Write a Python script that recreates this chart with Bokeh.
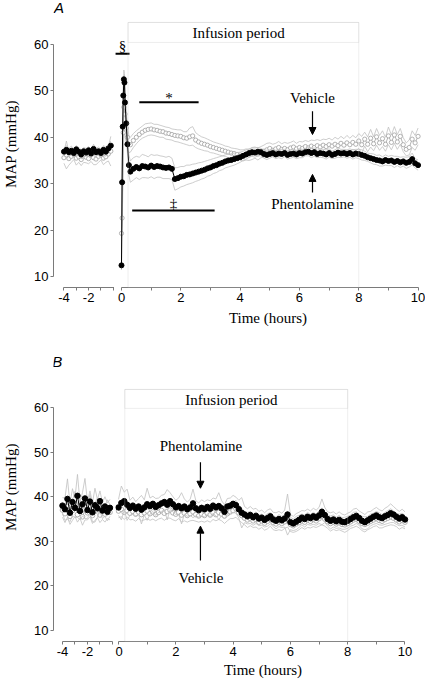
import numpy as np
from bokeh.plotting import figure
from bokeh.layouts import row, column
from bokeh.models import Range1d, FixedTicker, Label, Arrow, NormalHead, BoxAnnotation, Title
from bokeh.embed import file_html
from bokeh.resources import INLINE

# ------------------------------------------------------------------ data
infusion_start = 0.22
infusion_end = 8.0
x_ticks_pre = [-4, -2]
x_minor_pre = [-3, -1, 0]
x_ticks = [0, 2, 4, 6, 8, 10]
x_minor = [1, 3, 5, 7, 9]
y_ticks = [10, 20, 30, 40, 50, 60]

# Panel A: pre-infusion baseline (hours)
a_pre_t = [-4.0, -3.8, -3.6, -3.4, -3.2, -3.0, -2.8, -2.6, -2.4, -2.2,
           -2.0, -1.8, -1.6, -1.4, -1.2, -1.0, -0.8, -0.6, -0.4, -0.2]
a_pre_phe = [36.9, 37.3, 36.8, 37.1, 36.6, 37.4, 36.9, 36.3, 37.0, 36.7,
             37.2, 36.5, 37.5, 36.8, 37.0, 36.6, 37.3, 36.9, 37.6, 38.2]
a_pre_phe_sem = [0.8, 0.9, 0.8, 1.0, 0.9, 0.8, 0.9, 1.0, 0.8, 0.9,
                 0.8, 0.9, 1.0, 0.8, 0.9, 0.8, 0.9, 1.0, 0.9, 1.0]
a_pre_veh = [35.6, 36.2, 35.4, 35.9, 36.3, 35.5, 35.8, 35.2, 36.0, 35.7,
             35.4, 36.1, 35.6, 35.3, 35.9, 36.2, 35.5, 35.8, 36.4, 37.0]
a_pre_veh_sem = [1.2, 3.0, 1.4, 1.3, 1.1, 1.5, 1.2, 1.3, 1.4, 1.2,
                 1.1, 1.3, 1.5, 1.2, 1.3, 1.1, 1.4, 1.2, 1.5, 3.2]

# Panel A: bolus + infusion (hours)
a_t = [0.0, 0.02, 0.04, 0.06, 0.08, 0.10, 0.12, 0.16, 0.20, 0.25] + \
      [round(0.3 + 0.1 * i, 1) for i in range(98)]
a_phe = [12.4, 30.3, 42.3, 49.0, 52.5, 51.8, 47.5, 43.0, 38.5, 34.0,
         32.6, 33.2, 33.6, 33.3, 33.8, 33.7, 33.5, 33.9, 33.6, 33.8,
         33.7, 33.5, 33.4, 33.5, 33.2, 31.0, 31.2, 31.5, 31.6, 31.9,
         32.0, 32.2, 32.4, 32.6, 32.8, 33.0, 33.3, 33.5, 33.8, 34.0,
         34.3, 34.5, 34.8, 35.0, 35.1, 35.3, 35.5, 35.7, 36.0, 36.3,
         36.6, 36.8, 36.7, 36.9, 36.8, 36.4, 36.2, 36.4, 36.6, 36.3,
         36.5, 36.4, 36.6, 36.2, 36.4, 36.5, 36.3, 36.6, 36.5, 36.8,
         36.9, 36.6, 36.8, 36.4, 36.6, 36.5, 36.3, 36.6, 36.2, 36.4,
         36.7, 36.5, 36.6, 36.4, 36.6, 36.3, 36.5, 36.4, 36.2, 36.0,
         35.7, 35.5, 35.3, 35.1, 35.0, 34.8, 35.1, 34.9, 35.0, 34.7,
         34.9, 34.6, 34.8, 34.5, 34.7, 35.3, 34.4, 34.0]
a_phe_sem = [1.0, 2.0, 2.5, 2.5, 2.0, 2.0, 2.0, 2.0, 2.0, 2.2,
             2.3, 2.4, 2.3, 2.4, 2.5, 2.4, 2.3, 2.4, 2.5, 2.4,
             2.3, 2.4, 2.3, 2.4, 2.3, 2.4, 2.3, 2.2, 2.1, 2.1,
             2.0, 2.0, 1.9, 1.9, 1.8, 1.8, 1.7, 1.7, 1.6, 1.6,
             1.5, 1.5, 1.4, 1.4, 1.3, 1.3, 1.2, 1.1, 1.0, 1.0,
             0.9, 0.9, 1.0, 0.9, 0.8, 0.9, 1.0, 0.9, 0.8, 0.9,
             0.9, 1.0, 0.8, 0.9, 0.9, 0.8, 0.9, 1.0, 0.9, 0.8,
             0.9, 1.0, 0.9, 0.8, 0.9, 0.9, 1.0, 0.9, 0.8, 0.9,
             1.0, 0.9, 0.8, 0.9, 0.9, 1.0, 0.9, 1.0, 1.1, 1.0,
             0.9, 1.0, 1.1, 1.0, 1.2, 1.0, 1.1, 1.0, 1.1, 1.2,
             1.0, 1.1, 1.0, 1.2, 1.1, 1.3, 1.0, 1.1]
a_veh = [19.3, 22.6, 30.3, 41.0, 46.5, 47.5, 45.0, 42.0, 40.0, 38.5,
         38.4, 39.3, 40.0, 40.6, 41.1, 41.5, 41.7, 41.8, 41.6, 41.5,
         41.3, 41.2, 40.9, 40.8, 40.6, 40.4, 40.3, 40.2, 39.9, 39.8,
         40.1, 40.3, 39.4, 39.0, 38.7, 38.5, 38.3, 38.0, 37.8, 37.6,
         37.4, 37.2, 37.0, 36.8, 36.6, 36.5, 36.3, 36.2, 36.1, 36.3,
         36.2, 36.5, 36.7, 36.4, 36.8, 37.0, 37.3, 37.6, 37.2, 37.5,
         37.8, 37.4, 37.6, 37.3, 37.7, 37.9, 37.5, 37.8, 37.6, 38.0,
         37.7, 38.1, 37.8, 38.2, 37.9, 38.3, 38.0, 38.4, 38.1, 38.5,
         38.2, 38.7, 38.3, 38.8, 38.4, 38.9, 38.5, 39.2, 38.4, 39.6,
         38.5, 39.8, 38.6, 40.1, 38.8, 39.7, 38.5, 40.3, 38.9, 40.5,
         39.0, 40.2, 38.4, 37.4, 37.8, 39.6, 38.8, 40.2]
a_veh_sem = [1.0, 2.0, 3.0, 5.0, 6.5, 6.0, 4.5, 3.5, 2.5, 1.8,
             1.6, 1.5, 1.4, 1.3, 1.3, 1.4, 1.3, 1.3, 1.2, 1.3,
             1.3, 1.2, 1.3, 1.3, 1.2, 1.3, 1.3, 1.4, 1.3, 1.4,
             1.9, 2.0, 1.6, 1.5, 1.4, 1.4, 1.3, 1.3, 1.2, 1.2,
             1.2, 1.2, 1.1, 1.2, 1.1, 1.1, 1.2, 1.1, 1.2, 1.2,
             1.2, 1.3, 1.2, 1.3, 1.2, 1.3, 1.4, 1.2, 1.3, 1.2,
             1.3, 1.2, 1.3, 1.4, 1.2, 1.3, 1.2, 1.3, 1.4, 1.3,
             1.4, 1.3, 1.5, 1.3, 1.4, 1.3, 1.5, 1.4, 1.3, 1.5,
             1.4, 1.5, 1.4, 1.6, 1.4, 1.5, 1.4, 1.6, 1.8, 1.5,
             1.6, 1.9, 1.5, 1.8, 1.6, 1.7, 1.5, 1.9, 1.6, 1.8,
             1.6, 1.7, 1.5, 1.4, 1.6, 1.8, 1.6, 1.8]

# Panel B: pre-infusion baseline
b_pre_t = [-4.0, -3.8, -3.6, -3.4, -3.2, -3.0, -2.8, -2.6, -2.4, -2.2,
           -2.0, -1.8, -1.6, -1.4, -1.2, -1.0, -0.8, -0.6, -0.4, -0.2]
b_pre_phe = [38.0, 37.2, 39.5, 36.4, 38.8, 37.5, 40.2, 36.8, 38.3, 39.6,
             37.0, 38.9, 36.5, 38.1, 37.4, 39.0, 36.9, 37.8, 36.6, 37.5]
b_pre_phe_sem = [1.8, 2.5, 4.5, 2.0, 3.0, 2.2, 4.8, 2.0, 2.6, 4.5,
                 1.9, 2.4, 2.1, 3.8, 2.0, 2.3, 1.8, 2.2, 2.0, 1.9]
b_pre_veh = [37.0, 36.2, 37.8, 35.6, 36.9, 38.4, 36.0, 37.3, 35.5, 37.1,
             36.4, 38.0, 35.8, 36.7, 37.5, 35.9, 36.8, 36.1, 37.2, 36.5]
b_pre_veh_sem = [1.6, 2.0, 2.4, 1.8, 2.2, 2.8, 1.7, 2.1, 1.9, 2.3,
                 1.6, 2.5, 1.8, 2.0, 2.2, 1.7, 1.9, 1.8, 2.1, 1.7]

# Panel B: infusion
b_t = [round(0.1 * i, 1) for i in range(101)]
b_phe = [37.6, 38.6, 39.0, 38.2, 37.5, 38.0, 37.3, 37.8, 37.1, 37.6,
         38.3, 37.9, 38.4, 37.7, 38.1, 38.5, 38.8, 38.2, 39.0, 38.3,
         37.6, 37.9, 37.4, 37.8, 37.2, 37.6, 38.5, 37.4, 37.0, 37.5,
         37.2, 37.7, 37.3, 38.0, 37.6, 37.9, 37.4, 36.6, 37.8, 38.0,
         38.4, 38.1, 37.2, 36.4, 36.0, 35.6, 35.9, 35.4, 35.7, 35.1,
         35.3, 34.8, 35.2, 35.6, 34.9, 34.6, 35.0, 34.7, 35.1, 36.0,
         34.3, 34.0, 34.4, 34.8, 35.3, 35.0, 35.5, 35.2, 35.6, 35.3,
         35.8, 36.6, 35.9, 35.0, 34.6, 34.9, 34.5, 34.8, 34.4, 34.3,
         34.6, 35.0, 35.4, 35.7, 35.2, 34.6, 34.3, 34.7, 35.1, 35.5,
         35.8, 35.4, 35.2, 35.6, 35.9, 36.3, 36.0, 35.5, 35.1, 35.4,
         34.9]
b_phe_sem = [1.8, 3.8, 2.0, 3.5, 1.7, 1.9, 1.6, 1.8, 3.2, 1.7,
             3.6, 1.8, 1.7, 1.9, 1.6, 1.8, 1.7, 3.4, 1.9, 1.7,
             1.6, 1.8, 3.5, 1.7, 1.6, 1.8, 3.2, 1.7, 1.6, 1.8,
             1.7, 1.6, 1.8, 1.7, 1.9, 3.0, 1.7, 1.6, 1.8, 1.7,
             1.9, 1.8, 2.0, 3.4, 1.8, 1.7, 1.9, 1.8, 1.7, 1.6,
             1.7, 1.6, 1.8, 1.7, 1.6, 1.8, 1.7, 1.6, 1.9, 4.6,
             1.7, 1.6, 1.8, 1.7, 1.6, 1.8, 1.7, 1.6, 1.8, 1.7,
             1.8, 2.9, 1.7, 1.6, 1.8, 1.7, 1.6, 1.8, 1.7, 1.6,
             1.7, 1.6, 1.8, 1.7, 1.6, 1.8, 1.7, 1.9, 1.6, 1.7,
             1.8, 1.7, 1.6, 1.8, 1.9, 2.1, 1.8, 1.7, 1.6, 1.8,
             1.7]
b_veh = [36.8, 37.2, 36.5, 36.9, 36.3, 36.7, 36.1, 36.6, 36.0, 36.4,
         36.8, 36.2, 36.6, 36.0, 36.5, 36.9, 36.3, 36.7, 37.0, 36.4,
         36.1, 36.5, 35.9, 36.3, 35.8, 36.2, 36.6, 36.0, 35.7, 36.1,
         35.8, 36.3, 35.9, 36.4, 36.0, 36.5, 36.1, 35.7, 36.2, 36.6,
         36.9, 37.3, 36.4, 35.8, 35.2, 34.8, 35.1, 34.6, 34.9, 34.3,
         34.6, 34.1, 34.5, 34.9, 34.2, 33.9, 34.3, 34.0, 34.4, 35.0,
         33.8, 33.5, 33.9, 34.2, 34.6, 34.3, 34.8, 34.5, 34.9, 34.6,
         35.1, 35.6, 35.0, 34.4, 34.0, 34.3, 33.9, 34.2, 33.8, 33.7,
         34.0, 34.4, 34.8, 35.0, 34.5, 34.0, 33.8, 34.1, 34.5, 34.8,
         35.1, 34.7, 34.5, 34.9, 35.2, 35.5, 35.2, 34.8, 34.4, 34.7,
         34.3]
b_veh_sem = [1.5, 1.7, 1.6, 1.4, 1.5, 1.8, 1.6, 1.5, 1.4, 1.6,
             1.7, 1.5, 1.6, 1.4, 1.5, 1.7, 1.6, 1.5, 1.8, 1.6,
             1.5, 1.4, 1.6, 1.7, 1.5, 1.6, 1.9, 1.5, 1.4, 1.6,
             1.5, 1.7, 1.6, 1.5, 1.4, 1.6, 1.5, 1.7, 1.6, 1.5,
             1.8, 1.9, 1.7, 1.6, 1.5, 1.7, 1.6, 1.5, 1.7, 1.6,
             1.5, 1.6, 1.7, 1.5, 1.6, 1.5, 1.7, 1.6, 1.5, 1.8,
             1.6, 1.5, 1.7, 1.6, 1.5, 1.6, 1.7, 1.5, 1.6, 1.5,
             1.7, 1.9, 1.6, 1.5, 1.7, 1.6, 1.5, 1.6, 1.5, 1.7,
             1.6, 1.5, 1.7, 1.6, 1.5, 1.6, 1.7, 1.5, 1.6, 1.5,
             1.6, 1.7, 1.5, 1.6, 1.7, 1.8, 1.6, 1.5, 1.7, 1.6,
             1.5]

# significance bars of panel A
a_sig_text = ["§", "*", "‡"]
a_sig_x0 = [-0.2, 0.60, 0.36]
a_sig_x1 = [0.27, 2.60, 3.14]
a_sig_y = [57.98, 47.57, 24.22]
a_sig_text_y = [59.6, 48.5, 25.7]

# ------------------------------------------------------------------ style
AXC = "#7a7a7a"
SEMC = "#c0c0c0"
VEHC = "#a0a0a0"
BOXC = "#c8c8c8"
SERIF = "Liberation Serif"
SANS = "Liberation Sans"


def style_axis(ax):
    ax.axis_line_color = AXC
    ax.axis_line_width = 1
    ax.major_tick_line_color = AXC
    ax.minor_tick_line_color = AXC
    ax.major_tick_out = 3
    ax.major_tick_in = 0
    ax.minor_tick_out = 3
    ax.minor_tick_in = 0
    ax.major_label_text_font = SANS
    ax.major_label_text_font_size = "13px"
    ax.major_label_text_color = "black"
    ax.major_label_standoff = 2


def draw_series(p, t, phe, phe_sem, veh, veh_sem, msize):
    t = np.array(t)
    phe = np.array(phe); phe_sem = np.array(phe_sem)
    veh = np.array(veh); veh_sem = np.array(veh_sem)
    p.line(t, veh + veh_sem, line_color=SEMC, line_width=0.8)
    p.line(t, veh - veh_sem, line_color=SEMC, line_width=0.8)
    p.line(t, veh, line_color=VEHC, line_width=0.8)
    p.scatter(t, veh, marker="circle", size=msize - 0.8, fill_color="white",
              line_color=VEHC, line_width=0.8)
    p.line(t, phe + phe_sem, line_color=SEMC, line_width=0.8)
    p.line(t, phe - phe_sem, line_color=SEMC, line_width=0.8)
    p.line(t, phe, line_color="black", line_width=1)
    p.scatter(t, phe, marker="circle", size=msize, fill_color="black",
              line_color="black")


def txt(p, x, y, s, size="15px", font=SERIF, style="normal"):
    p.add_layout(Label(x=x, y=y, text=s, text_font=font, text_font_size=size,
                       text_font_style=style, text_align="center",
                       text_baseline="middle", text_color="black"))


def arrow(p, x, y0, y1):
    p.add_layout(Arrow(end=NormalHead(size=7, fill_color="black", line_color="black"),
                       x_start=x, y_start=y0, x_end=x, y_end=y1,
                       line_color="black", line_width=1.2))


def make_panel(cfg, pre, main, letter):
    yr = Range1d(cfg["y0"], cfg["y1"])
    common = dict(output_backend="svg", toolbar_location=None,
                  outline_line_color=None, background_fill_color="white",
                  border_fill_color="white", y_range=yr,
                  min_border_top=0, min_border_bottom=cfg["bb"],
                  height=cfg["h"])
    pl = figure(width=cfg["wl"], x_range=Range1d(cfg["xl0"], cfg["xl1"]),
                min_border_left=48, min_border_right=0, **common)
    pr = figure(width=cfg["wr"], x_range=Range1d(cfg["xr0"], cfg["xr1"]),
                y_axis_location=None, min_border_left=0,
                min_border_right=cfg["br"], **common)
    for p in (pl, pr):
        p.grid.visible = False
        style_axis(p.xaxis[0])
    pl.xaxis.ticker = FixedTicker(ticks=x_ticks_pre, minor_ticks=x_minor_pre)
    pl.xaxis.bounds = (-4, cfg["xl_end"])
    pl.xaxis.major_label_overrides = {-4: "-4", -2: "-2"}
    pr.xaxis.ticker = FixedTicker(ticks=x_ticks, minor_ticks=x_minor)
    pr.xaxis.bounds = (0, 10)
    style_axis(pl.yaxis[0])
    pl.yaxis.ticker = FixedTicker(ticks=y_ticks, minor_ticks=[])
    pl.yaxis.bounds = (10, 60)
    pl.yaxis.axis_label = "MAP (mmHg)"
    pl.yaxis.axis_label_text_font = SERIF
    pl.yaxis.axis_label_text_font_size = "15px"
    pl.yaxis.axis_label_text_font_style = "normal"
    pl.yaxis.axis_label_text_color = "black"
    pl.yaxis.axis_label_standoff = 12

    # infusion period box
    pr.add_layout(BoxAnnotation(left=infusion_start, right=infusion_end,
                                bottom=cfg["y0"], top=cfg["boxtop"],
                                fill_alpha=0, line_color=BOXC, line_width=1))
    pr.add_layout(BoxAnnotation(left=infusion_start, right=infusion_end,
                                bottom=cfg["boxdiv"], top=cfg["boxtop"],
                                fill_alpha=0, line_color=BOXC, line_width=1))
    txt(pr, cfg["boxtx"], cfg["boxty"], "Infusion period")

    draw_series(pl, *pre, cfg["ms"])
    draw_series(pr, *main, cfg["ms"])

    pr.add_layout(Title(text="Time (hours)", align="center", offset=cfg["toff"],
                        standoff=cfg["tst"], text_font=SERIF,
                        text_font_size="15px", text_font_style="normal",
                        text_color="black"), "below")
    txt(pl, cfg["letx"], cfg["lety"], letter, font=SANS, style="italic")
    return pl, pr


cfgA = dict(y0=7.629, y1=69.48, bb=45, h=332, wl=114, wr=311, br=4,
            xl0=-4.846, xl1=0.098, xl_end=0.09, xr0=-0.236, xr1=10.115,
            boxtop=64.74, boxdiv=60.43, boxtx=3.95, boxty=62.58,
            toff=-27.5, tst=6, letx=-4.40, lety=67.97, ms=5)
cfgB = dict(y0=7.534, y1=76.82, bb=41, h=350, wl=115, wr=310, br=15,
            xl0=-4.719, xl1=0.244, xl_end=0.0, xr0=-0.105, xr1=10.192,
            boxtop=64.04, boxdiv=59.8, boxtx=3.94, boxty=61.73,
            toff=-22.5, tst=2, letx=-4.42, lety=70.3, ms=5.5)

plA, prA = make_panel(cfgA,
                      (a_pre_t, a_pre_phe, a_pre_phe_sem, a_pre_veh, a_pre_veh_sem),
                      (a_t, a_phe, a_phe_sem, a_veh, a_veh_sem), "A")
plB, prB = make_panel(cfgB,
                      (b_pre_t, b_pre_phe, b_pre_phe_sem, b_pre_veh, b_pre_veh_sem),
                      (b_t, b_phe, b_phe_sem, b_veh, b_veh_sem), "B")

# significance bars (panel A)
prA.segment(x0=a_sig_x0, y0=a_sig_y, x1=a_sig_x1, y1=a_sig_y,
            line_color="black", line_width=2)
for s, x0, x1, ty in zip(a_sig_text, a_sig_x0, a_sig_x1, a_sig_text_y):
    txt(prA, (x0 + x1) / 2, ty, s)

# arrows and labels
txt(prA, 6.44, 48.47, "Vehicle")
arrow(prA, 6.44, 45.6, 40.6)
txt(prA, 6.44, 25.52, "Phentolamine")
arrow(prA, 6.44, 28.1, 32.0)

txt(prB, 2.88, 51.48, "Phentolamine")
arrow(prB, 2.86, 47.7, 41.9)
txt(prB, 2.88, 21.77, "Vehicle")
arrow(prB, 2.86, 25.7, 33.4)

layout = column(row(plA, prA), row(plB, prB))
open("out.html", "w").write(file_html(layout, INLINE))
